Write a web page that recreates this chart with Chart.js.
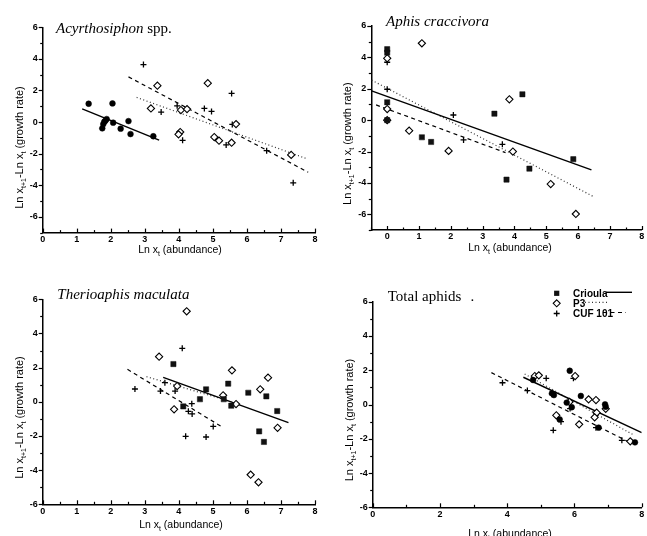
<!DOCTYPE html>
<html><head><meta charset="utf-8">
<script src="https://cdn.jsdelivr.net/npm/chart.js@4.4.1/dist/chart.umd.min.js"></script>
<style>
html,body{margin:0;padding:0;background:#fff;}
#wrap{position:relative;width:647px;height:536px;overflow:hidden;background:#fff;}
canvas{position:absolute;left:0;top:0;}
</style></head><body>
<div id="wrap">
<canvas id="p1" width="647" height="536"></canvas>
<canvas id="p2" width="647" height="536"></canvas>
<canvas id="p3" width="647" height="536"></canvas>
<canvas id="p4" width="647" height="536"></canvas>
</div>
<script>
// ---------- data (x = Ln x_t, y = growth rate) ----------
const seriesNames = ['Crioula', 'P3', 'CUF 101'];

// Acyrthosiphon spp.
const acyCrioula = [[1.35,1.16],[2.05,1.18],[1.88,0.19],[1.81,0.02],[1.78,-0.13],[1.84,0.08],[2.07,-0.04],[2.52,0.06],[1.75,-0.40],[2.29,-0.42],[2.58,-0.76],[3.25,-0.90]];
const acyP3 = [[3.37,2.30],[4.85,2.46],[3.18,0.86],[4.06,0.76],[4.24,0.82],[5.68,-0.13],[4.04,-0.63],[3.99,-0.78],[5.04,-0.95],[5.18,-1.18],[5.55,-1.31],[7.30,-2.08]];
const acyCuf = [[2.96,3.64],[3.48,0.63],[3.95,1.03],[4.75,0.86],[4.96,0.67],[5.55,1.81],[5.57,-0.15],[4.11,-1.16],[5.39,-1.45],[6.58,-1.81],[7.36,-3.85]];
const acyCrioulaFit = [[1.16,0.84],[3.42,-1.14]];
const acyP3Fit = [[2.76,1.56],[7.73,-2.30]];
const acyCufFit = [[2.52,2.86],[7.80,-3.18]];

// Aphis craccivora
const aphCrioula = [[0,4.52],[0,4.30],[0,1.14],[0,0],[1.09,-1.09],[1.38,-1.39],[3.37,0.41],[3.75,-3.79],[4.25,1.65],[4.47,-3.09],[5.85,-2.49]];
const aphP3 = [[0,3.94],[0,0.71],[0,0],[1.09,4.90],[0.69,-0.67],[1.93,-1.96],[3.84,1.33],[3.95,-2.00],[5.14,-4.07],[5.93,-5.98]];
const aphCuf = [[0,3.69],[0,1.97],[0,0],[2.08,0.33],[2.40,-1.26],[3.62,-1.54],[1.93,-1.96]];
const aphCrioulaFit = [[-0.49,1.86],[6.42,-3.17]];
const aphP3Fit = [[-0.49,2.55],[6.52,-4.91]];
const aphCufFit = [[-0.35,0.97],[3.72,-2.07]];

// Therioaphis maculata
const theCrioula = [[3.84,2.21],[5.45,1.06],[6.04,0.53],[6.57,0.32],[4.80,0.73],[4.62,0.15],[5.32,0.15],[5.54,-0.23],[6.89,-0.54],[6.36,-1.73],[6.50,-2.35],[4.13,-0.27]];
const theP3 = [[4.23,5.30],[3.42,2.64],[5.56,1.84],[6.62,1.41],[6.39,0.73],[3.95,0.92],[5.30,0.38],[5.68,-0.13],[6.90,-1.52],[3.86,-0.44],[6.11,-4.27],[6.34,-4.71]];
const theCuf = [[4.10,3.13],[3.59,1.12],[3.46,0.63],[2.71,0.75],[3.89,0.63],[4.38,-0.11],[4.28,-0.56],[4.39,-0.71],[5.01,-1.44],[4.20,-2.02],[4.80,-2.06]];
const theCrioulaFit = [[3.54,1.43],[7.22,-1.22]];
const theP3Fit = [[3.05,1.47],[5.70,-0.09]];
const theCufFit = [[2.49,1.90],[5.26,-1.46]];

// Total aphids
const totCrioula = [[4.77,1.43],[5.86,1.97],[5.33,0.65],[5.39,0.55],[6.19,0.50],[6.91,0.01],[6.93,-0.13],[5.77,0.11],[5.92,-0.16],[5.56,-0.87],[6.72,-1.35],[7.80,-2.21]];
const totP3 = [[4.82,1.66],[4.94,1.70],[6.02,1.66],[6.42,0.30],[6.64,0.26],[6.93,-0.25],[6.66,-0.48],[6.60,-0.75],[5.46,-0.63],[6.14,-1.16],[7.66,-2.15],[5.85,0.15]];
const totCuf = [[3.86,1.27],[5.16,1.53],[5.97,1.53],[4.60,0.81],[5.33,0.60],[5.87,-0.24],[5.60,-1.00],[6.64,-1.35],[5.37,-1.51],[7.41,-2.09]];
const totCrioulaFit = [[4.48,1.59],[8.0,-1.64]];
const totP3Fit = [[4.52,1.78],[7.76,-1.78]];
const totCufFit = [[3.53,1.86],[7.66,-2.23]];

const panelTitles = [['Acyrthosiphon',' spp.'],['Aphis craccivora',''],['Therioaphis maculata',''],['','Total aphids']];
const yTitleParts = ['Ln x', 't+1', '-Ln x', 't', ' (growth rate)'];
const xTitleParts = ['Ln x', 't', ' (abundance)'];

// ---------- styling ----------
const SANS = "'Liberation Sans', Arial, Helvetica, sans-serif";
const SERIF = "'Liberation Serif', 'Times New Roman', serif";
const STY = {
  circle: {pointStyle:'circle', pointRadius:2.9, backgroundColor:'#000', borderColor:'#000', borderWidth:0.5},
  square: {pointStyle:'rect', pointRadius:3.7, backgroundColor:'#111', borderColor:'#111', borderWidth:0.5},
  diamond:{pointStyle:'rectRot', pointRadius:3.6, backgroundColor:'#fff', borderColor:'#000', borderWidth:1.1},
  plus:   {pointStyle:'cross', pointRadius:3, backgroundColor:'#000', borderColor:'#000', borderWidth:1.3}
};
const LINE = {
  solid: {borderDash:[], borderWidth:1.4, borderColor:'#000'},
  dotted:{borderDash:[1,2.5], borderWidth:1.2, borderColor:'#333'},
  dashed:{borderDash:[4,3.5], borderWidth:1.2, borderColor:'#000'}
};
function pts(a){ return a.map(p => ({x:p[0], y:p[1]})); }

const DECOR = {};

function drawRich(ctx, segs, x, y, align, rot) {
  ctx.save();
  ctx.translate(x, y);
  if (rot) ctx.rotate(rot);
  let total = 0;
  segs.forEach(s => { ctx.font = s.font; total += ctx.measureText(s.t).width; });
  let cx = align === 'center' ? -total / 2 : 0;
  ctx.textBaseline = 'alphabetic';
  ctx.textAlign = 'left';
  ctx.fillStyle = '#000';
  segs.forEach(s => { ctx.font = s.font; ctx.fillText(s.t, cx, s.dy || 0); cx += ctx.measureText(s.t).width; });
  ctx.restore();
}
function ySegs() {
  const m = '11px ' + SANS, s = '7px ' + SANS;
  return [{t:yTitleParts[0],font:m},{t:yTitleParts[1],font:s,dy:3},{t:yTitleParts[2],font:m},{t:yTitleParts[3],font:s,dy:3},{t:yTitleParts[4],font:m}];
}
function xSegs() {
  const m = '10.5px ' + SANS, s = '7px ' + SANS;
  return [{t:xTitleParts[0],font:m},{t:xTitleParts[1],font:s,dy:3},{t:xTitleParts[2],font:m}];
}
function drawMarker(ctx, kind, x, y) {
  ctx.save();
  ctx.fillStyle = '#000'; ctx.strokeStyle = '#000';
  if (kind === 'square') { ctx.fillStyle = '#111'; ctx.fillRect(x - 2.6, y - 2.6, 5.2, 5.2); }
  else if (kind === 'diamond') { ctx.lineWidth = 1.1; ctx.fillStyle = '#fff'; ctx.beginPath(); ctx.moveTo(x, y - 3.5); ctx.lineTo(x + 3.5, y); ctx.lineTo(x, y + 3.5); ctx.lineTo(x - 3.5, y); ctx.closePath(); ctx.fill(); ctx.stroke(); }
  else if (kind === 'plus') { ctx.lineWidth = 1.3; ctx.beginPath(); ctx.moveTo(x - 3, y); ctx.lineTo(x + 3, y); ctx.moveTo(x, y - 3); ctx.lineTo(x, y + 3); ctx.stroke(); }
  ctx.restore();
}

const decorPlugin = {
  id: 'decor',
  afterDraw(chart) {
    const d = DECOR[chart.canvas.id];
    if (!d) return;
    const ctx = chart.ctx, xs = chart.scales.x, ys = chart.scales.y, a = chart.chartArea;
    ctx.save();
    ctx.strokeStyle = '#000';
    ctx.lineWidth = 1.2;
    // x ticks (inward)
    for (let v = Math.ceil(xs.min / d.xMinor - 1e-9) * d.xMinor; v <= xs.max + 1e-9; v += d.xMinor) {
      const px = Math.round(xs.getPixelForValue(v)) + 0.5;
      const r = v / d.xMajor, major = Math.abs(r - Math.round(r)) < 1e-6;
      const len = major ? 4 : 2.5;
      ctx.beginPath(); ctx.moveTo(px, a.bottom); ctx.lineTo(px, a.bottom - len); ctx.stroke();
    }
    // y ticks (outward)
    for (let v = Math.ceil(ys.min / d.yMinor - 1e-9) * d.yMinor; v <= ys.max + 1e-9; v += d.yMinor) {
      const py = Math.round(ys.getPixelForValue(v)) + 0.5;
      const r = v / d.yMajor, major = Math.abs(r - Math.round(r)) < 1e-6;
      const len = major ? 4 : 2.5;
      ctx.beginPath(); ctx.moveTo(a.left, py); ctx.lineTo(a.left - len, py); ctx.stroke();
    }
    ctx.restore();
    // axis titles
    drawRich(ctx, ySegs(), d.yTitle[0], d.yTitle[1], 'center', -Math.PI / 2);
    drawRich(ctx, xSegs(), d.xTitle[0], d.xTitle[1], 'center', 0);
    // panel title
    const tp = d.titleParts;
    drawRich(ctx, [{t:tp[0], font:'italic 15px ' + SERIF}, {t:tp[1], font:'15px ' + SERIF}], d.title[0], d.title[1], 'left', 0);
    if (d.titleDot) drawRich(ctx, [{t:'.', font:'15px ' + SERIF}], d.titleDot[0], d.titleDot[1], 'left', 0);
    // legend
    if (d.legend) {
      const L = d.legend;
      const kinds = ['square', 'diamond', 'plus'];
      const styles = ['solid', 'dotted', 'dashed'];
      ctx.save();
      for (let i = 0; i < 3; i++) {
        const y = L.rows[i];
        drawMarker(ctx, kinds[i], L.markerX, y);
        ctx.font = 'bold 10px ' + SANS;
        ctx.fillStyle = '#000';
        ctx.textBaseline = 'middle';
        ctx.textAlign = 'left';
        ctx.fillText(seriesNames[i], L.textX, y + 0.5);
        const st = LINE[styles[i]];
        ctx.strokeStyle = st.borderColor; ctx.lineWidth = st.borderWidth;
        ctx.setLineDash(st.borderDash);
        ctx.beginPath(); ctx.moveTo(L.lines[i][0], y - 1); ctx.lineTo(L.lines[i][1], y - 1); ctx.stroke();
        ctx.setLineDash([]);
      }
      ctx.restore();
    }
  }
};

function panel(id, cfg) {
  const YW = 30, XH = 20, a = cfg.area;
  const ds = [];
  cfg.series.forEach(s => ds.push(Object.assign({label:s.name, data:pts(s.data), showLine:false}, STY[s.marker])));
  cfg.fits.forEach(f => ds.push(Object.assign({label:f.name + ' fit', data:pts(f.data), showLine:true, pointRadius:0, fill:false, order:5}, LINE[f.style])));
  DECOR[id] = cfg.decor;
  const tickFont = {family:SANS, size:9, weight:'bold'};
  const labelCb = step => (v => { const r = v / step; return Math.abs(r - Math.round(r)) < 1e-6 ? String(Math.round(v)) : ''; });
  new Chart(document.getElementById(id), {
    type:'scatter',
    data:{datasets:ds},
    options:{
      responsive:false, animation:false, devicePixelRatio:1,
      layout:{padding:{left:a.left - YW, right:647 - a.right, top:a.top, bottom:536 - a.bottom - XH}},
      plugins:{legend:{display:false}, tooltip:{enabled:false}},
      scales:{
        x:{type:'linear', position:'bottom', min:cfg.x[0], max:cfg.x[1],
           afterFit:s => { s.height = XH; },
           grid:{display:false, drawTicks:false},
           border:{display:true, color:'#000', width:1.5},
           ticks:{stepSize:cfg.x[2], includeBounds:false, autoSkip:false, maxRotation:0, padding:1.5, color:'#000', font:tickFont, callback:labelCb(cfg.x[3])}},
        y:{type:'linear', position:'left', min:cfg.y[0], max:cfg.y[1],
           afterFit:s => { s.width = YW; },
           grid:{display:false, drawTicks:false},
           border:{display:true, color:'#000', width:1.5},
           ticks:{stepSize:1, autoSkip:false, padding:5, color:'#000', font:tickFont, callback:labelCb(2)}}
      }
    },
    plugins:[decorPlugin]
  });
}

panel('p1', {
  area:{left:42.7, right:315, top:27.3, bottom:232.6}, x:[0, 8, 1, 1], y:[-7, 6],
  series:[{name:'Crioula', data:acyCrioula, marker:'circle'}, {name:'P3', data:acyP3, marker:'diamond'}, {name:'CUF 101', data:acyCuf, marker:'plus'}],
  fits:[{name:'Crioula', data:acyCrioulaFit, style:'solid'}, {name:'P3', data:acyP3Fit, style:'dotted'}, {name:'CUF 101', data:acyCufFit, style:'dashed'}],
  decor:{xMinor:0.5, xMajor:1, yMinor:1, yMajor:2, yTitle:[22.5, 147.5], xTitle:[180, 252.5], title:[56, 32.5], titleParts:panelTitles[0]}
});
panel('p2', {
  area:{left:371.3, right:644, top:26, bottom:230}, x:[-0.5, 8, 1, 1], y:[-7, 6],
  series:[{name:'Crioula', data:aphCrioula, marker:'square'}, {name:'P3', data:aphP3, marker:'diamond'}, {name:'CUF 101', data:aphCuf, marker:'plus'}],
  fits:[{name:'Crioula', data:aphCrioulaFit, style:'solid'}, {name:'P3', data:aphP3Fit, style:'dotted'}, {name:'CUF 101', data:aphCufFit, style:'dashed'}],
  decor:{xMinor:0.5, xMajor:1, yMinor:1, yMajor:2, yTitle:[351, 143.7], xTitle:[510, 251], title:[386, 25.5], titleParts:panelTitles[1]}
});
panel('p3', {
  area:{left:42.7, right:315, top:299.3, bottom:504.3}, x:[0, 8, 1, 1], y:[-6, 6],
  series:[{name:'Crioula', data:theCrioula, marker:'square'}, {name:'P3', data:theP3, marker:'diamond'}, {name:'CUF 101', data:theCuf, marker:'plus'}],
  fits:[{name:'Crioula', data:theCrioulaFit, style:'solid'}, {name:'P3', data:theP3Fit, style:'dotted'}, {name:'CUF 101', data:theCufFit, style:'dashed'}],
  decor:{xMinor:0.5, xMajor:1, yMinor:1, yMajor:2, yTitle:[22.5, 417.5], xTitle:[181, 528], title:[57.3, 299], titleParts:panelTitles[2]}
});
panel('p4', {
  area:{left:372.7, right:645, top:301.7, bottom:507.3}, x:[0, 8, 2, 2], y:[-6, 6],
  series:[{name:'Crioula', data:totCrioula, marker:'circle'}, {name:'P3', data:totP3, marker:'diamond'}, {name:'CUF 101', data:totCuf, marker:'plus'}],
  fits:[{name:'Crioula', data:totCrioulaFit, style:'solid'}, {name:'P3', data:totP3Fit, style:'dotted'}, {name:'CUF 101', data:totCufFit, style:'dashed'}],
  decor:{xMinor:1, xMajor:2, yMinor:1, yMajor:2, yTitle:[352.5, 420], xTitle:[510, 537], title:[387.7, 300.7], titleDot:[470.5, 300.7], titleParts:panelTitles[3],
         legend:{markerX:556.7, textX:573, rows:[293.3, 303.3, 313.5], lines:[[606, 632], [585, 607], [603, 626]]}}
});
</script>
</body></html>
